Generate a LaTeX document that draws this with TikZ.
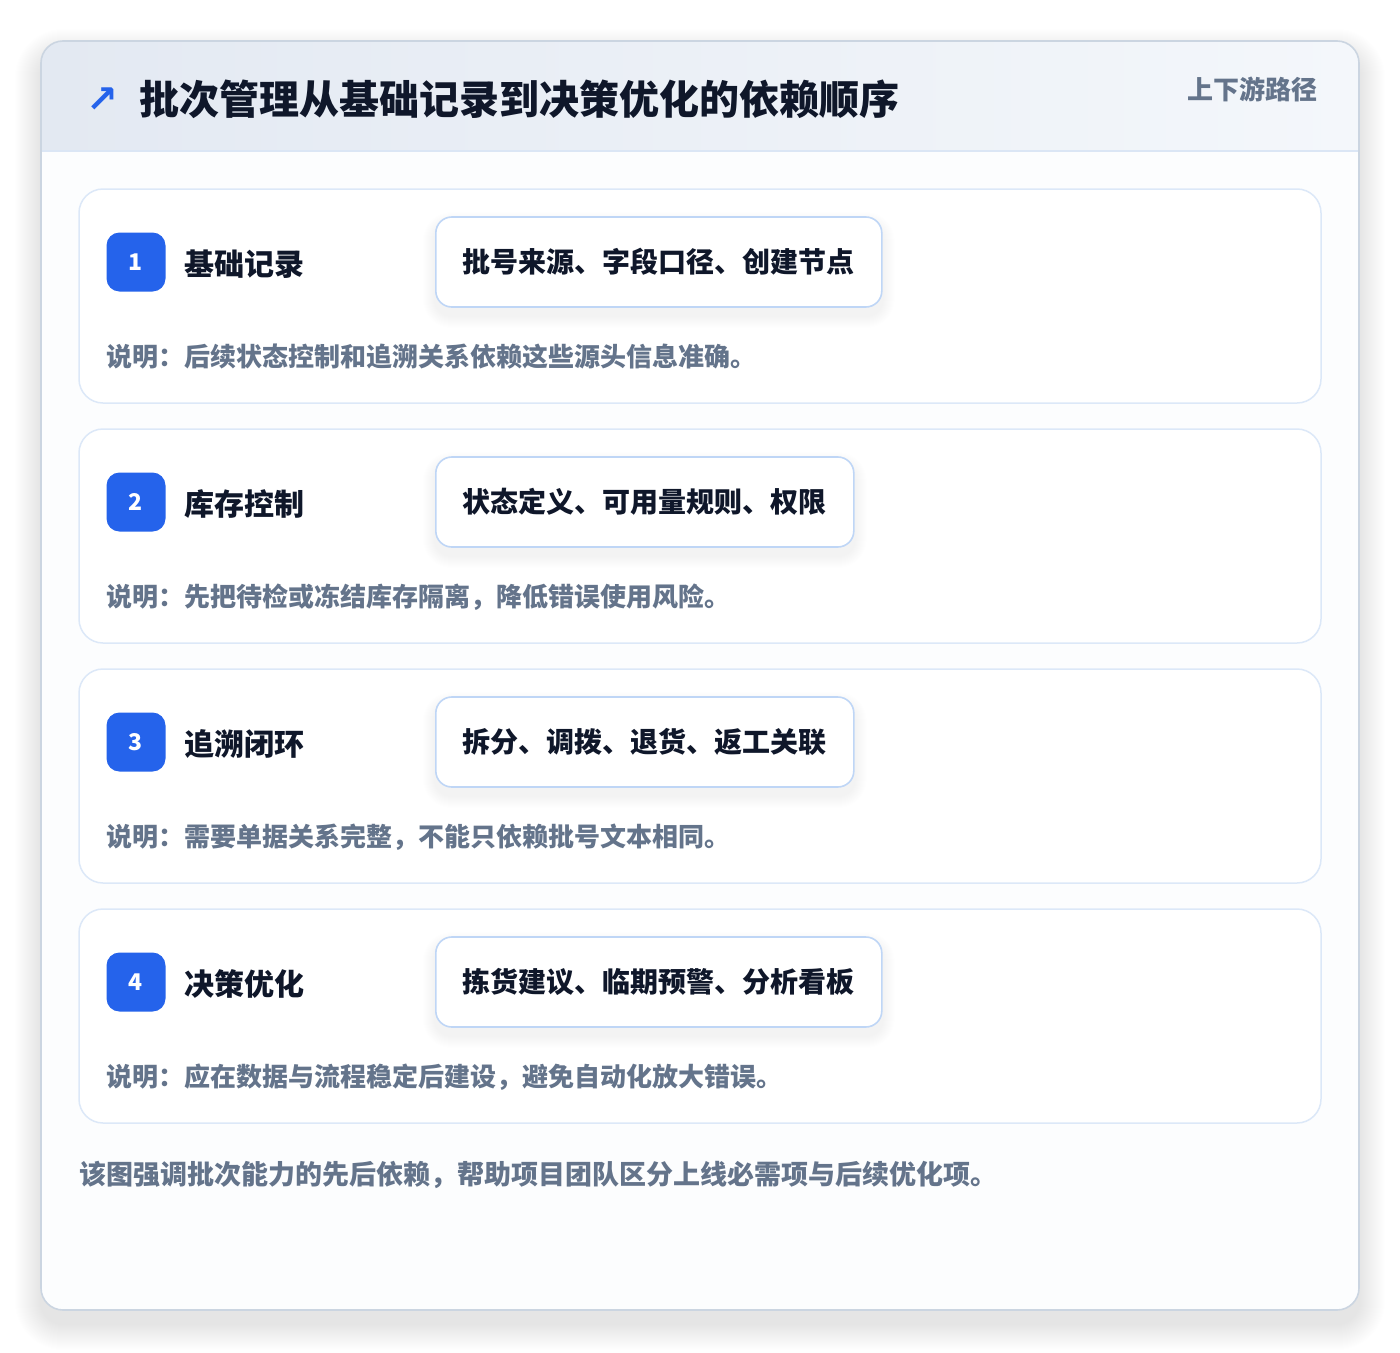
\documentclass[tikz,border=0pt]{standalone}
\usepackage{fontspec}
\newfontfamily\cjk{Noto Sans CJK SC}
\newfontfamily\dejavu{DejaVu Sans}
\usetikzlibrary{calc}
\pgfdeclarelayer{cards}
\pgfdeclarelayer{shad}
\pgfsetlayers{cards,shad,main}
\definecolor{titlec}{HTML}{0F172A}
\definecolor{badgec}{HTML}{2563EB}
\definecolor{grayt}{HTML}{64748B}
\definecolor{pillb}{HTML}{BFD6F6}
\definecolor{cardb}{HTML}{DCE8F8}
\definecolor{outerb}{HTML}{CBD5E1}
\definecolor{headl}{HTML}{E3E9F2}
\definecolor{headr}{HTML}{F4F7FB}
\definecolor{headline}{HTML}{DBE6F5}
\tikzset{
  cardbox/.style={draw=cardb, line width=1.5pt, fill=white, rounded corners=24pt},
  badge/.style={fill=badgec, rounded corners=13pt, minimum width=59pt, minimum height=59pt, inner sep=0pt, text=white, font=\cjk\bfseries\fontsize{23}{23}\selectfont},
  label/.style={anchor=west, inner sep=0pt, text=titlec, font=\cjk\bfseries\fontsize{30}{30}\selectfont},
  pill/.style={anchor=west, draw=pillb, line width=1.6pt, fill=white, rounded corners=16pt, minimum height=90pt, inner xsep=27pt, text=titlec, font=\cjk\bfseries\fontsize{28}{28}\selectfont},
  note/.style={anchor=west, inner sep=0pt, text=grayt, font=\cjk\bfseries\fontsize{26}{26}\selectfont},
}
\begin{document}
\begin{tikzpicture}[x=1pt,y=-1pt]
\useasboundingbox (0,0) rectangle (1400,1352);
\begin{pgfonlayer}{cards}
\fill[white] (0,0) rectangle (1400,1352);
% outer shadow
\foreach \i in {1,...,26} {
  \fill[black, opacity=0.004, rounded corners=22pt+\i pt] (41-\i,41-\i+14) rectangle (1359+\i,1310+\i+14);
}
% outer card
\fill[fill={rgb,255:red,252;green,253;blue,254}, rounded corners=22pt] (41,41) rectangle (1359,1310);
\begin{scope}
  \clip[rounded corners=22pt] (41,41) rectangle (1359,1310);
  \shade[left color=headl, right color=headr] (41,41) rectangle (1359,151);
\end{scope}
\draw[headline, line width=1.5pt] (41,151) -- (1359,151);
\draw[outerb, line width=1.6pt, rounded corners=22pt] (41,41) rectangle (1359,1310);
\end{pgfonlayer}
% header texts
\node[anchor=center, inner sep=0pt, text=badgec, font=\dejavu\bfseries\fontsize{38}{38}\selectfont] (icon) at (102,100) {↗};
\node[anchor=west, inner sep=0pt, text=titlec, font=\cjk\bfseries\fontsize{40}{40}\selectfont] (title) at (139,99) {批次管理从基础记录到决策优化的依赖顺序};
\node[anchor=east, inner sep=0pt, text=grayt, font=\cjk\bfseries\fontsize{26}{26}\selectfont] (side) at (1318,89) {上下游路径};
% cards
\foreach \n/\lab/\pilltxt/\notetxt [count=\k from 0] in {
  1/基础记录/批号来源、字段口径、创建节点/说明：后续状态控制和追溯关系依赖这些源头信息准确。,
  2/库存控制/状态定义、可用量规则、权限/说明：先把待检或冻结库存隔离，降低错误使用风险。,
  3/追溯闭环/拆分、调拨、退货、返工关联/说明：需要单据关系完整，不能只依赖批号文本相同。,
  4/决策优化/拣货建议、临期预警、分析看板/说明：应在数据与流程稳定后建设，避免自动化放大错误。} {
  \pgfmathsetmacro{\top}{189+240*\k}
  \begin{pgfonlayer}{cards}
    \draw[cardbox] (79,\top) rectangle (1321,\top+214);
  \end{pgfonlayer}
  \node[badge] (badge\n) at (136,\top+73) {\n};
  \node[label] (label\n) at (184,\top+75) {\lab};
  \node[pill] (pill\n) at (435,\top+73) {\pilltxt};
  \node[note] (note\n) at (106,\top+168) {\notetxt};
  \begin{pgfonlayer}{shad}
    \foreach \j in {1,...,12} {
      \fill[black, opacity=0.0045, rounded corners=16pt+\j pt] ($(pill\n.north west)+(-\j,-\j+8)$) rectangle ($(pill\n.south east)+(\j,\j+8)$);
    }
  \end{pgfonlayer}
}
\node[note, font=\cjk\bfseries\fontsize{27}{27}\selectfont] (footer) at (79,1175) {该图强调批次能力的先后依赖，帮助项目团队区分上线必需项与后续优化项。};
\end{tikzpicture}
\end{document}
